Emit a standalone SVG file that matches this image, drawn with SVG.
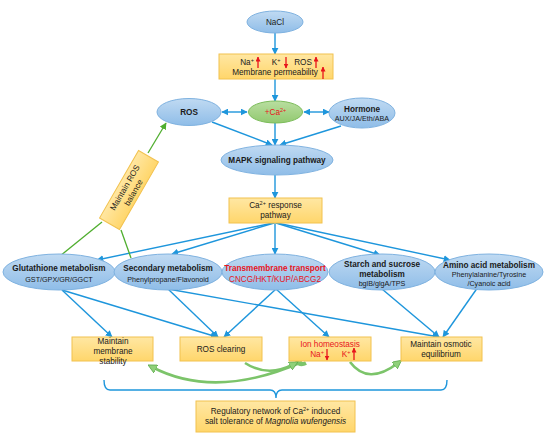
<svg xmlns="http://www.w3.org/2000/svg" width="550" height="438" viewBox="0 0 550 438">
<defs>
<linearGradient id="gb" x1="0" y1="0" x2="0" y2="1"><stop offset="0" stop-color="#c0daf2"/><stop offset="1" stop-color="#8fbde8"/></linearGradient>
<linearGradient id="gg" x1="0" y1="0" x2="0" y2="1"><stop offset="0" stop-color="#b9dea0"/><stop offset="1" stop-color="#92c970"/></linearGradient>
<linearGradient id="gy" x1="0" y1="0" x2="0" y2="1"><stop offset="0" stop-color="#ffe7a3"/><stop offset="1" stop-color="#ffd66b"/></linearGradient>
<marker id="ab" viewBox="0 0 10 10" refX="9" refY="5" markerWidth="7" markerHeight="7" markerUnits="userSpaceOnUse" orient="auto-start-reverse"><path d="M0,0 L10,5 L0,10 z" fill="#1e96dc"/></marker>
<marker id="ag" viewBox="0 0 10 10" refX="9" refY="5" markerWidth="7" markerHeight="7" markerUnits="userSpaceOnUse" orient="auto"><path d="M0,0 L10,5 L0,10 z" fill="#4fae2e"/></marker>
<marker id="ac" viewBox="0 0 10 10" refX="5" refY="5" markerWidth="9" markerHeight="9" markerUnits="userSpaceOnUse" orient="auto"><path d="M0,0 L10,5 L0,10 z" fill="#8fd07a" stroke="#5aa84a" stroke-width="0.8"/></marker>
<marker id="ar" viewBox="0 0 10 10" refX="9" refY="5" markerWidth="5" markerHeight="5" markerUnits="userSpaceOnUse" orient="auto"><path d="M0,0 L10,5 L0,10 z" fill="#e8141b"/></marker>
</defs>
<style>
.el{fill:url(#gb);stroke:#7fb2e0;stroke-width:1}
.bx{fill:url(#gy);stroke:#f2c24f;stroke-width:1}
text{font-family:"Liberation Sans",Arial,sans-serif;fill:#1a1a1a;text-anchor:middle}
.t{font-size:8.2px}
.b{font-size:8.2px;font-weight:bold}
.s{font-size:7.2px}
.red{fill:#e8141b}
.cb{stroke:#1e96dc;stroke-width:1.4;fill:none}
.cg{stroke:#4fae2e;stroke-width:1.3;fill:none}
.cc{stroke:#7cc46a;stroke-width:2.6;fill:none}
.ra{stroke:#e8141b;stroke-width:1.3;fill:none}
</style>
<g id="connectors">
<line class="cb" x1="275" y1="33" x2="275" y2="54" marker-end="url(#ab)"/>
<line class="cb" x1="275" y1="79" x2="275" y2="101" marker-end="url(#ab)"/>
<line class="cb" x1="222" y1="112" x2="247" y2="112" marker-start="url(#ab)" marker-end="url(#ab)"/>
<line class="cb" x1="304" y1="112" x2="329" y2="112" marker-start="url(#ab)" marker-end="url(#ab)"/>
<line class="cb" x1="275" y1="123" x2="275" y2="145" marker-end="url(#ab)"/>
<line class="cb" x1="212" y1="122" x2="272" y2="145" marker-end="url(#ab)"/>
<line class="cb" x1="341" y1="126" x2="280" y2="145" marker-end="url(#ab)"/>
<line class="cb" x1="275" y1="175" x2="275" y2="198" marker-end="url(#ab)"/>
<line class="cb" x1="273" y1="223" x2="97" y2="260" marker-end="url(#ab)"/>
<line class="cb" x1="274" y1="223" x2="172" y2="254" marker-end="url(#ab)"/>
<line class="cb" x1="275" y1="223" x2="275" y2="254" marker-end="url(#ab)"/>
<line class="cb" x1="276" y1="223" x2="380" y2="255" marker-end="url(#ab)"/>
<line class="cb" x1="277" y1="223" x2="450" y2="260" marker-end="url(#ab)"/>
<line class="cb" x1="62" y1="290" x2="112" y2="337" marker-end="url(#ab)"/>
<line class="cb" x1="62" y1="290" x2="217" y2="337" marker-end="url(#ab)"/>
<line class="cb" x1="168" y1="289" x2="218" y2="337" marker-end="url(#ab)"/>
<line class="cb" x1="168" y1="289" x2="439" y2="337" marker-end="url(#ab)"/>
<line class="cb" x1="276" y1="289" x2="224" y2="337" marker-end="url(#ab)"/>
<line class="cb" x1="276" y1="289" x2="329" y2="337" marker-end="url(#ab)"/>
<line class="cb" x1="382" y1="289" x2="439" y2="337" marker-end="url(#ab)"/>
<line class="cb" x1="478" y1="287" x2="443" y2="337" marker-end="url(#ab)"/>
<line class="cg" x1="60" y1="256" x2="102" y2="222"/>
<line class="cg" x1="131" y1="258" x2="121" y2="230"/>
<line class="cg" x1="148" y1="153" x2="166" y2="123" marker-end="url(#ag)"/>
<path class="cb" d="M104,380 Q104,390 110,390 H270 Q276,390 276,398 Q276,390 282,390 H441 Q447,390 447,380"/>
<path class="cc" d="M302,362 Q215,400 152,367" marker-end="url(#ac)"/>
<path d="M296,361 Q300,366 306,363" stroke="#7cc46a" stroke-width="4" fill="none"/>
<path class="cc" d="M245,363 Q268,378 294,364" marker-end="url(#ac)" stroke-width="1.8"/>
<path class="cc" d="M350,362 Q368,386 398,363" marker-end="url(#ac)"/>
</g>
<g id="nacl"><ellipse class="el" cx="275" cy="22" rx="28" ry="11"/><text class="t" x="275" y="25">NaCl</text></g>
<g id="box1"><rect class="bx" x="219" y="54" width="114" height="25"/>
<text class="t" x="247" y="65">Na<tspan font-size="5.5" dy="-3">+</tspan></text>
<text class="t" x="276" y="65">K<tspan font-size="5.5" dy="-3">+</tspan></text>
<text class="t" x="303" y="65">ROS</text>
<text class="t" x="275" y="75">Membrane permeability</text>
<line class="ra" x1="258" y1="68" x2="258" y2="57" marker-end="url(#ar)"/>
<line class="ra" x1="286" y1="57" x2="286" y2="68" marker-end="url(#ar)"/>
<line class="ra" x1="316" y1="68" x2="316" y2="57" marker-end="url(#ar)"/>
<line class="ra" x1="323" y1="79" x2="323" y2="67" marker-end="url(#ar)"/>
</g>
<g id="ros"><ellipse class="el" cx="189" cy="112" rx="32" ry="13.5"/><text class="b" x="189" y="115">ROS</text></g>
<g id="ca"><ellipse cx="275.5" cy="112" rx="27" ry="11" fill="url(#gg)" stroke="#7dbd5c"/><text class="t red" x="275.5" y="115">+Ca<tspan font-size="5.5" dy="-3">2+</tspan></text></g>
<g id="hormone"><ellipse class="el" cx="362" cy="113" rx="33" ry="15"/><text class="b" x="362" y="112">Hormone</text><text class="s" x="362" y="121">AUX/JA/Eth/ABA</text></g>
<g id="mapk"><ellipse class="el" cx="277" cy="160" rx="56" ry="15"/><text class="b" x="277" y="163">MAPK signaling pathway</text></g>
<g id="caresp"><rect class="bx" x="229" y="198" width="93" height="25"/><text class="t" x="275.5" y="208">Ca<tspan font-size="5.5" dy="-3">2+</tspan><tspan dy="3"> response</tspan></text><text class="t" x="275.5" y="218">pathway</text></g>
<g id="rosbal" transform="translate(129,190) rotate(-60)"><rect class="bx" x="-39" y="-11.5" width="78" height="23"/><text class="t" x="0" y="-2">Maintain ROS</text><text class="t" x="0" y="8">balance</text></g>
<g id="glut"><ellipse class="el" cx="59" cy="272" rx="56" ry="18"/><text class="b" x="59" y="271">Glutathione metabolism</text><text class="s" x="59" y="282">GST/GPX/GR/GGCT</text></g>
<g id="sec"><ellipse class="el" cx="168" cy="272" rx="54" ry="18"/><text class="b" x="168" y="271">Secondary metabolism</text><text class="s" x="168" y="282">Phenylpropane/Flavonoid</text></g>
<g id="trans"><ellipse class="el" cx="275" cy="272" rx="53" ry="18"/><text class="b red" x="275" y="271">Transmembrane transport</text><text class="t red" x="275" y="282">CNCG/HKT/KUP/ABCG2</text></g>
<g id="starch"><ellipse class="el" cx="382" cy="272" rx="53" ry="18"/><text class="b" x="382" y="267">Starch and sucrose</text><text class="b" x="382" y="277">metabolism</text><text class="s" x="382" y="286">bglB/glgA/TPS</text></g>
<g id="amino"><ellipse class="el" cx="489" cy="272" rx="54" ry="18"/><text class="b" x="489" y="268">Amino acid metabolism</text><text class="s" x="489" y="277">Phenylalanine/Tyrosine</text><text class="s" x="489" y="286">/Cyanoic acid</text></g>
<g id="membrane"><rect class="bx" x="72" y="337" width="81" height="24"/><text class="t" x="113" y="344">Maintain</text><text class="t" x="113" y="354">membrane</text><text class="t" x="113" y="364">stability</text></g>
<g id="rosclear"><rect class="bx" x="180" y="337" width="82" height="24"/><text class="t" x="221" y="352">ROS clearing</text></g>
<g id="ion"><rect class="bx" x="289" y="337" width="82" height="24"/><text class="t red" x="330" y="347">Ion homeostasis</text>
<text class="t red" x="317" y="357">Na<tspan font-size="5.5" dy="-3">+</tspan></text><text class="t red" x="346" y="357">K<tspan font-size="5.5" dy="-3">+</tspan></text>
<line class="ra" x1="327" y1="349" x2="327" y2="360" marker-end="url(#ar)"/>
<line class="ra" x1="354" y1="360" x2="354" y2="348" marker-end="url(#ar)"/></g>
<g id="osmotic"><rect class="bx" x="401" y="337" width="81" height="24"/><text class="t" x="441" y="347">Maintain osmotic</text><text class="t" x="441" y="357">equilibrium</text></g>
<g id="final"><rect class="bx" x="196" y="401" width="159" height="31"/><text class="t" x="275.5" y="414">Regulatory network of Ca<tspan font-size="5.5" dy="-3">2+</tspan><tspan dy="3"> induced</tspan></text><text class="t" x="275.5" y="424">salt tolerance of <tspan font-style="italic">Magnolia wufengensis</tspan></text></g>
</svg>
